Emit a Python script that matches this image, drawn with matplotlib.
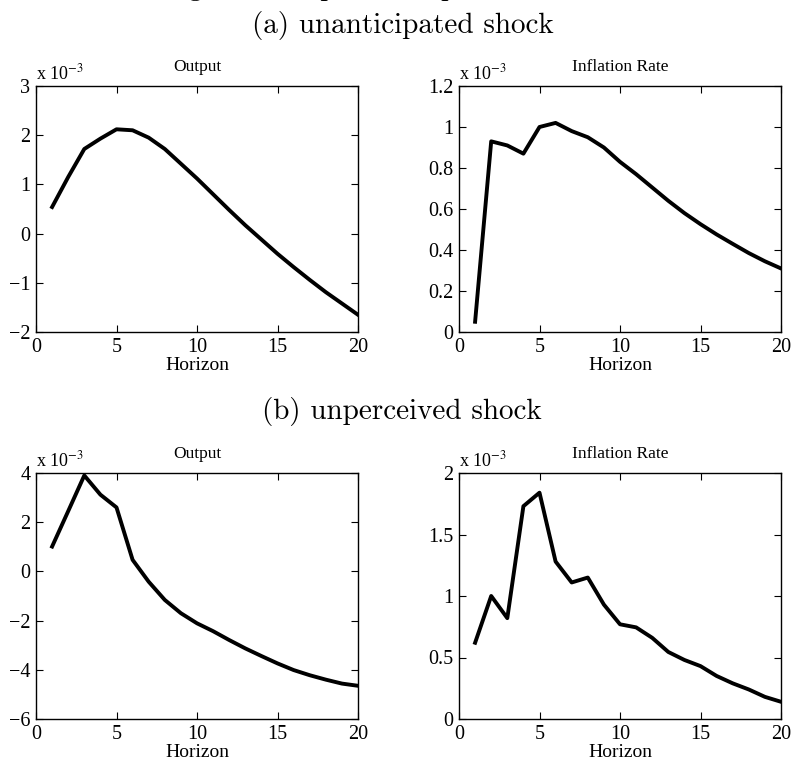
import matplotlib
matplotlib.use('Agg')
from matplotlib import pyplot as plt

horizon = list(range(1, 21))

# values in units of 1e-3
output_a = [0.54, 1.15, 1.72, 1.93, 2.12, 2.10, 1.95, 1.72, 1.42, 1.12,
            0.80, 0.48, 0.17, -0.12, -0.41, -0.68, -0.94, -1.19, -1.42, -1.65]
inflation_a = [0.05, 0.93, 0.91, 0.87, 1.00, 1.02, 0.98, 0.95, 0.90, 0.83,
               0.77, 0.705, 0.64, 0.58, 0.526, 0.476, 0.43, 0.385, 0.345, 0.31]
output_b = [1.01, 2.45, 3.90, 3.12, 2.60, 0.47, -0.42, -1.16, -1.70, -2.11,
            -2.43, -2.79, -3.13, -3.44, -3.74, -4.01, -4.22, -4.40, -4.56, -4.65]
inflation_b = [0.62, 1.00, 0.82, 1.73, 1.84, 1.28, 1.11, 1.15, 0.93, 0.77,
               0.745, 0.66, 0.545, 0.48, 0.43, 0.35, 0.29, 0.24, 0.18, 0.14]

fig_title = 'Figure 1: Impulse Responses to Shocks'
panel_titles = ['(a) unanticipated shock', '(b) unperceived shock']

TICK_FONT = 'Liberation Serif'


def dibujar(ax, y, titulo, ylim, yticks, yticklabels):
    ax.plot(horizon, y, color='black', linewidth=2.8)
    ax.set_xlim(0, 20)
    ax.set_ylim(*ylim)
    ax.set_xticks([0, 5, 10, 15, 20])
    ax.set_yticks(yticks)
    ax.set_yticklabels(yticklabels)
    ax.tick_params(direction='in', top=True, right=True, length=5, width=0.8,
                   labelsize=14.5, pad=4)
    for lab in ax.get_xticklabels() + ax.get_yticklabels():
        lab.set_fontfamily(TICK_FONT)
    ax.set_xlabel('Horizon', fontsize=14, fontfamily=TICK_FONT, labelpad=0)
    ax.set_title(titulo, fontsize=12.5, fontfamily=TICK_FONT, pad=11)
    ax.text(0.0, 1.01, r'x 10$^{-3}$', transform=ax.transAxes, fontsize=13,
            fontfamily=TICK_FONT, ha='left', va='bottom')
    for s in ax.spines.values():
        s.set_linewidth(1.0)


plt.rcParams['mathtext.fontset'] = 'stix'
fig = plt.figure(figsize=(7.92, 7.64), dpi=100)

W, H = 792, 764
positions = [(36, 86), (459, 86), (36, 473), (459, 473)]
axes = []
for (x0, y0) in positions:
    axes.append(fig.add_axes([x0 / W, 1 - (y0 + 246) / H, 322 / W, 246 / H]))

dibujar(axes[0], output_a, 'Output', (-2, 3), [-2, -1, 0, 1, 2, 3],
        ['\u22122', '\u22121', '0', '1', '2', '3'])
dibujar(axes[1], inflation_a, 'Inflation Rate', (0, 1.2), [0, 0.2, 0.4, 0.6, 0.8, 1, 1.2],
        ['0', '0.2', '0.4', '0.6', '0.8', '1', '1.2'])
dibujar(axes[2], output_b, 'Output', (-6, 4), [-6, -4, -2, 0, 2, 4],
        ['\u22126', '\u22124', '\u22122', '0', '2', '4'])
dibujar(axes[3], inflation_b, 'Inflation Rate', (0, 2), [0, 0.5, 1, 1.5, 2],
        ['0', '0.5', '1', '1.5', '2'])

fig.text(0.515, 1 + 5 / H, fig_title, fontsize=21, fontfamily='cmr10',
         ha='center', va='baseline')
fig.text(0.509, 1 - 26 / H, panel_titles[0], fontsize=21, fontfamily='cmr10',
         ha='center', va='center')
fig.text(0.508, 1 - 411 / H, panel_titles[1], fontsize=21, fontfamily='cmr10',
         ha='center', va='center')

fig.savefig('out.png', dpi=100)
